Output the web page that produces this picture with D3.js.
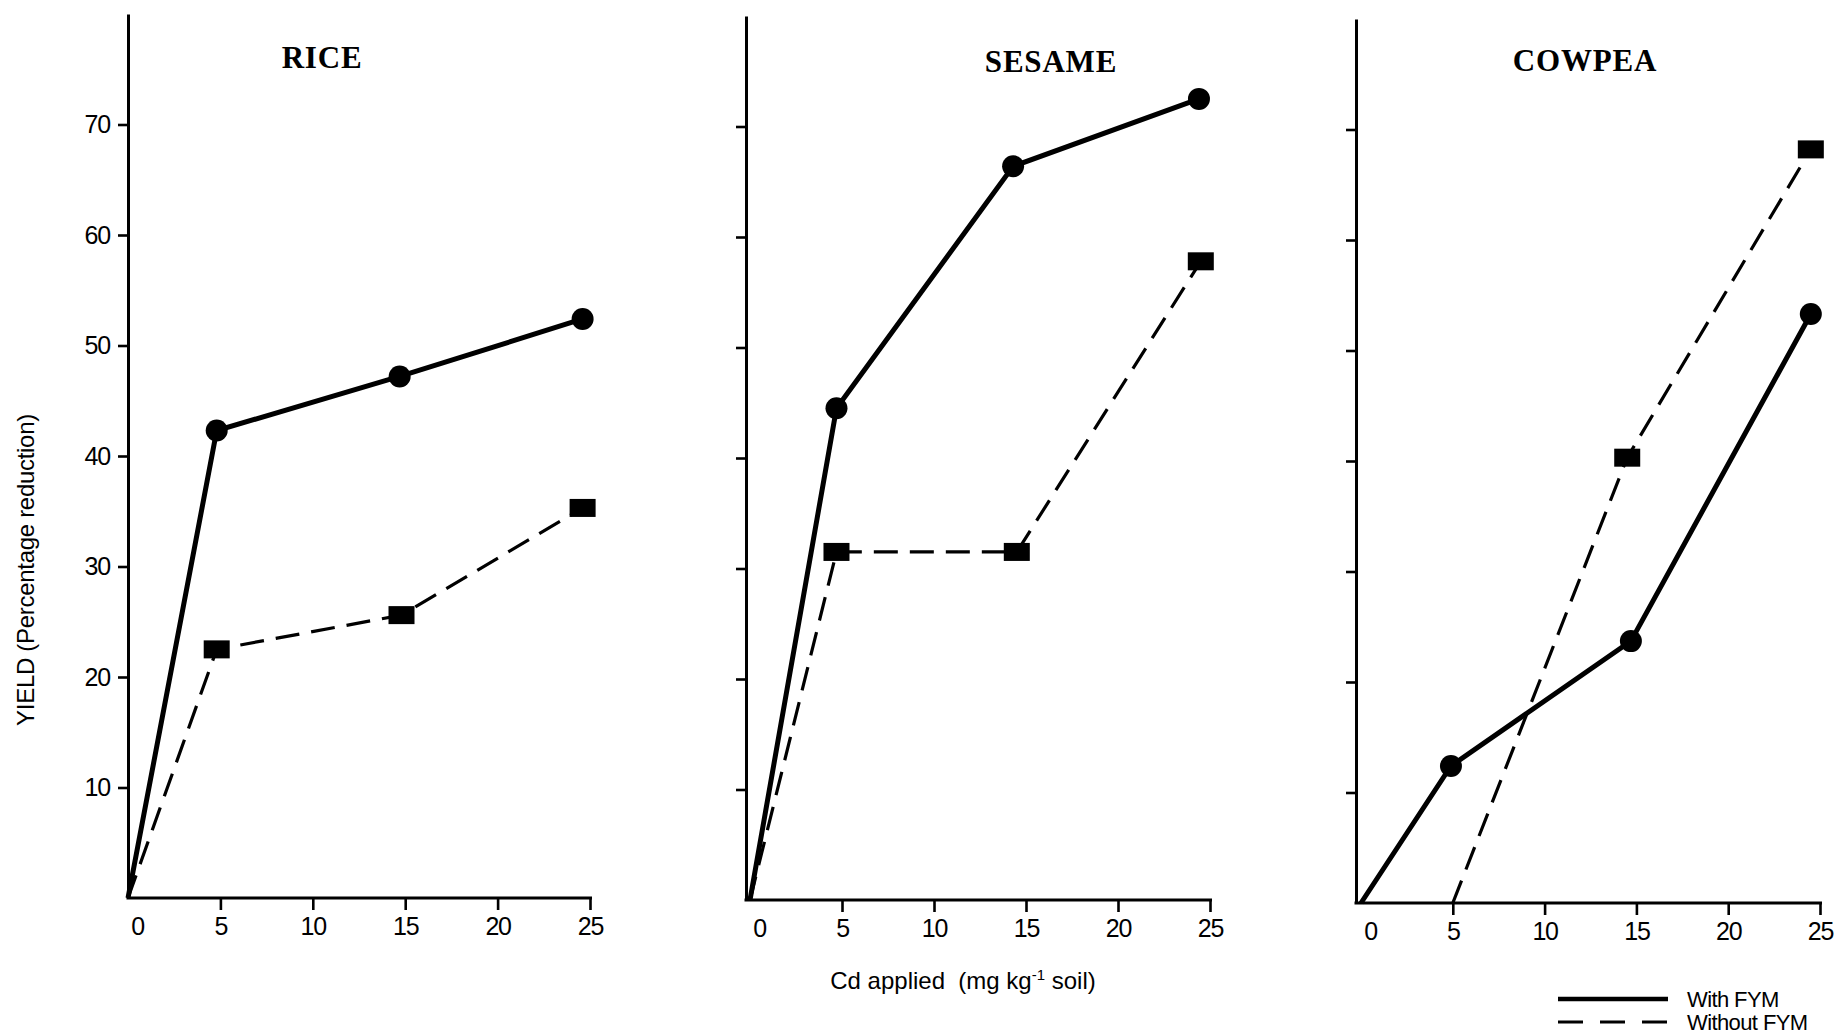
<!DOCTYPE html>
<html>
<head>
<meta charset="utf-8">
<script src="https://cdn.jsdelivr.net/npm/d3@7"></script>
<style>
  body { margin: 0; background: #fff; }
  svg { display: block; }
</style>
</head>
<body>
<div class="svg-container"></div>
<script>
const crops = ["RICE", "SESAME", "COWPEA"];
const xTicks = [0, 5, 10, 15, 20, 25];
const yTicks = [10, 20, 30, 40, 50, 60, 70];
const seriesNames = ["With FYM", "Without FYM"];

// [Cd applied, yield % reduction]
const riceWith = [[0, 0], [4.8, 42.3], [14.7, 47.2], [24.6, 52.4]];
const riceWithout = [[0, 0], [4.8, 22.5], [14.8, 25.6], [24.6, 35.3]];
const sesameWith = [[0, 0], [4.7, 44.5], [14.3, 66.4], [24.4, 72.5]];
const sesameWithout = [[0, 0], [4.7, 31.5], [14.5, 31.5], [24.5, 57.8]];
const cowpeaWith = [[0, 0], [4.9, 12.4], [14.7, 23.7], [24.5, 53.3]];
const cowpeaWithout = [[5, 0], [14.5, 40.3], [24.5, 68.2]];

const withFYM = [riceWith, sesameWith, cowpeaWith];
const withoutFYM = [riceWithout, sesameWithout, cowpeaWithout];

const width = 1838;
const height = 1036;
const unitY = 11.05; // px per 1 % on every panel

// where each panel sits on the page
const panels = [
    { axisX: 128, x0: 128, x25: 590, y0: 898, titleX: 322, titleY: 68 },
    { axisX: 746, x0: 750, x25: 1210, y0: 900, titleX: 1051, titleY: 72 },
    { axisX: 1356, x0: 1361, x25: 1820, y0: 903, titleX: 1585, titleY: 71 },
];

const tickFont = "'Liberation Sans', Arial, sans-serif";

const svg = d3.select(".svg-container").append("svg")
    .attr("width", width)
    .attr("height", height);

function drawPanel(i) {
    const p = panels[i];
    const g = svg.append("g").attr("class", "panel");

    const x = d3.scaleLinear().domain([0, 25]).range([p.x0, p.x25]);
    const y = d3.scaleLinear().domain([0, 80]).range([p.y0, p.y0 - 80 * unitY]);

    // y axis (only the first panel has numbers)
    const yAxis = d3.axisLeft(y)
        .tickValues(yTicks)
        .tickSize(10)
        .tickPadding(8)
        .tickSizeOuter(0);
    if (i > 0) yAxis.tickFormat("");
    const ya = g.append("g")
        .attr("transform", "translate(" + p.axisX + ",0)")
        .call(yAxis);
    ya.select(".domain").attr("stroke-width", 3);
    ya.selectAll(".tick line").attr("stroke-width", 2.6);

    // x axis
    const xAxis = d3.axisBottom(x)
        .tickValues(xTicks)
        .tickSize(12)
        .tickPadding(7)
        .tickSizeOuter(0);
    const xa = g.append("g")
        .attr("transform", "translate(0," + p.y0 + ")")
        .call(xAxis);
    xa.select(".domain").remove();
    xa.append("line")
        .attr("x1", p.axisX - 1.5).attr("x2", p.x25 + 2)
        .attr("stroke", "#000").attr("stroke-width", 3.2);
    xa.selectAll(".tick line").attr("stroke-width", 2.6);
    // the origin only gets a label, nudged off the corner
    const zero = xa.selectAll(".tick").filter(d => d === 0);
    zero.select("line").remove();
    zero.select("text").attr("dx", 9);

    g.selectAll(".tick text")
        .attr("font-family", tickFont)
        .attr("font-size", 25)
        .attr("letter-spacing", -1.2)
        .attr("fill", "#000");

    // title
    g.append("text")
        .attr("x", p.titleX)
        .attr("y", p.titleY)
        .attr("text-anchor", "middle")
        .attr("font-family", "'Liberation Serif', 'Times New Roman', serif")
        .attr("font-weight", "bold")
        .attr("font-size", 31)
        .attr("letter-spacing", 0.8)
        .text(crops[i]);

    const line = d3.line().x(d => x(d[0])).y(d => y(d[1]));

    // without FYM: dashed + squares
    g.append("path")
        .datum(withoutFYM[i])
        .attr("d", line)
        .attr("fill", "none")
        .attr("stroke", "#000")
        .attr("stroke-width", 3.2)
        .attr("stroke-dasharray", "24,12");
    g.selectAll(".sq")
        .data(withoutFYM[i].filter(d => d[1] > 0))
        .enter()
        .append("rect")
        .classed("sq", true)
        .attr("x", d => x(d[0]) - 13)
        .attr("y", d => y(d[1]) - 9)
        .attr("width", 26)
        .attr("height", 18)
        .attr("fill", "#000");

    // with FYM: solid + dots
    g.append("path")
        .datum(withFYM[i])
        .attr("d", line)
        .attr("fill", "none")
        .attr("stroke", "#000")
        .attr("stroke-width", 5);
    g.selectAll(".dot")
        .data(withFYM[i].filter(d => d[0] > 0))
        .enter()
        .append("circle")
        .classed("dot", true)
        .attr("cx", d => x(d[0]))
        .attr("cy", d => y(d[1]))
        .attr("r", 11)
        .attr("fill", "#000");
}

crops.forEach((c, i) => drawPanel(i));

// axis titles
svg.append("text")
    .attr("transform", "translate(34,570) rotate(-90)")
    .attr("text-anchor", "middle")
    .attr("font-family", tickFont)
    .attr("font-size", 24)
    .attr("letter-spacing", -0.3)
    .text("YIELD (Percentage reduction)");

const xLabel = svg.append("text")
    .attr("x", 963)
    .attr("y", 989)
    .attr("text-anchor", "middle")
    .attr("font-family", tickFont)
    .attr("font-size", 24)
    .attr("xml:space", "preserve");
xLabel.append("tspan").text("Cd applied  (mg kg");
xLabel.append("tspan").attr("dy", -9).attr("font-size", 15).text("-1");
xLabel.append("tspan").attr("dy", 9).text(" soil)");

// legend
const legend = svg.append("g").attr("transform", "translate(1558,999)");
seriesNames.forEach((name, i) => {
    legend.append("line")
        .attr("x1", 0).attr("x2", 110)
        .attr("y1", i * 23).attr("y2", i * 23)
        .attr("stroke", "#000")
        .attr("stroke-width", i === 0 ? 4.6 : 3)
        .attr("stroke-dasharray", i === 0 ? null : "25,17");
    legend.append("text")
        .attr("x", 129)
        .attr("y", i * 23 + 8)
        .attr("font-family", tickFont)
        .attr("font-size", 22)
        .attr("letter-spacing", -0.6)
        .text(name);
});
</script>
</body>
</html>
